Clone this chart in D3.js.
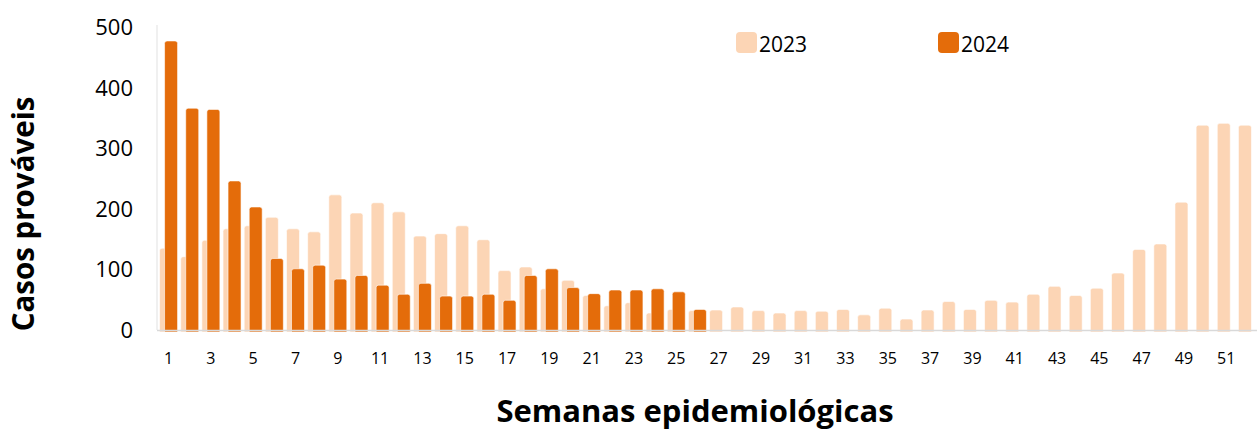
<!DOCTYPE html>
<html>
<head>
<meta charset="utf-8">
<script src="https://cdn.jsdelivr.net/npm/d3@7"></script>
<style>
  html, body { margin: 0; padding: 0; background: #fff; }
  svg { display: block; font-family: "Open Sans", "Noto Sans", sans-serif; }
</style>
</head>
<body>
<svg id="chart" width="1257" height="432"></svg>
<script>
// semanas epidemiológicas 1..52
var weeks = d3.range(1, 53);

var cases2023 = [135, 121, 148, 167, 172, 186, 167, 162, 223, 193,
                 210, 195, 155, 159, 172, 149, 98, 104, 68, 82,
                 57, 40, 45, 28, 34, 32, 33, 38, 32, 28,
                 32, 31, 34, 25, 36, 18, 33, 47, 34, 49,
                 46, 59, 72, 57, 69, 94, 133, 142, 211, 338,
                 341, 338];

// 2024 only goes up to week 26
var cases2024 = [477, 366, 364, 246, 203, 118, 101, 107, 84, 90,
                 74, 59, 77, 56, 56, 59, 49, 90, 101, 70,
                 60, 66, 66, 68, 63, 34];

var yTicks = [0, 100, 200, 300, 400, 500];
var xTickWeeks = weeks.filter(function (w) { return w % 2 === 1; });

var seriesNames = ['2023', '2024'];
var seriesColors = ['#fcd5b5', '#e46c0a'];

var svg = d3.select('#chart');

var x = d3.scaleBand().domain(weeks).range([158, 1258]).padding(0);
var y = d3.scaleLinear().domain([0, 500]).range([330, 27]);

var barW = 13;
var offsets = [-9, -4]; // 2023 sits left, 2024 overlaps to the right

function barPath(cx, v, off) {
  var x0 = cx + off;
  var x1 = x0 + barW;
  var top = y(v);
  var bottom = y(0) + 2;
  var r = Math.min(2.5, (bottom - top) / 2);
  return 'M' + x0 + ',' + bottom +
    'L' + x0 + ',' + (top + r) +
    'Q' + x0 + ',' + top + ' ' + (x0 + r) + ',' + top +
    'L' + (x1 - r) + ',' + top +
    'Q' + x1 + ',' + top + ' ' + x1 + ',' + (top + r) +
    'L' + x1 + ',' + bottom + 'Z';
}

// left axis line
svg.append('line')
  .attr('x1', 157).attr('x2', 157)
  .attr('y1', 25).attr('y2', y(0))
  .attr('stroke', '#ebebeb').attr('stroke-width', 1.5);

[cases2023, cases2024].forEach(function (data, si) {
  svg.append('g').selectAll('path')
    .data(data)
    .enter().append('path')
    .attr('d', function (d, i) {
      return barPath(x(weeks[i]) + x.bandwidth() / 2, d, offsets[si]);
    })
    .attr('fill', seriesColors[si])
    .attr('stroke', '#fff')
    .attr('stroke-width', 0.6);
});

// baseline
svg.append('line')
  .attr('x1', 157).attr('x2', 1257)
  .attr('y1', y(0) + 0.5).attr('y2', y(0) + 0.5)
  .attr('stroke', '#d9d9d9').attr('stroke-width', 1.5);

// y tick labels
svg.append('g').selectAll('text')
  .data(yTicks)
  .enter().append('text')
  .attr('x', 133)
  .attr('y', function (d) { return y(d); })
  .attr('dy', '0.36em')
  .attr('text-anchor', 'end')
  .attr('font-size', 22)
  .attr('fill', '#000')
  .text(function (d) { return d; });

// x tick labels
svg.append('g').selectAll('text')
  .data(xTickWeeks)
  .enter().append('text')
  .attr('x', function (d) { return x(d) + x.bandwidth() / 2; })
  .attr('y', 364)
  .attr('text-anchor', 'middle')
  .attr('font-size', 16)
  .attr('fill', '#000')
  .text(function (d) { return d; });

// legend
var legendX = [736, 938];
var legend = svg.append('g').selectAll('g')
  .data(seriesNames)
  .enter().append('g')
  .attr('transform', function (d, i) { return 'translate(' + legendX[i] + ',32)'; });

legend.append('rect')
  .attr('width', 21).attr('height', 21)
  .attr('rx', 4).attr('ry', 4)
  .attr('fill', function (d, i) { return seriesColors[i]; });

legend.append('text')
  .attr('x', 23)
  .attr('y', 19.5)
  .attr('font-size', 21)
  .attr('fill', '#000')
  .text(function (d) { return d; });

// axis titles
svg.append('text')
  .attr('x', 695)
  .attr('y', 422)
  .attr('text-anchor', 'middle')
  .attr('font-size', 31)
  .attr('font-weight', 'bold')
  .attr('fill', '#000')
  .text('Semanas epidemiológicas');

svg.append('text')
  .attr('transform', 'translate(34,214) rotate(-90)')
  .attr('text-anchor', 'middle')
  .attr('font-size', 29.5)
  .attr('font-weight', 'bold')
  .attr('fill', '#000')
  .text('Casos prováveis');
</script>
</body>
</html>
